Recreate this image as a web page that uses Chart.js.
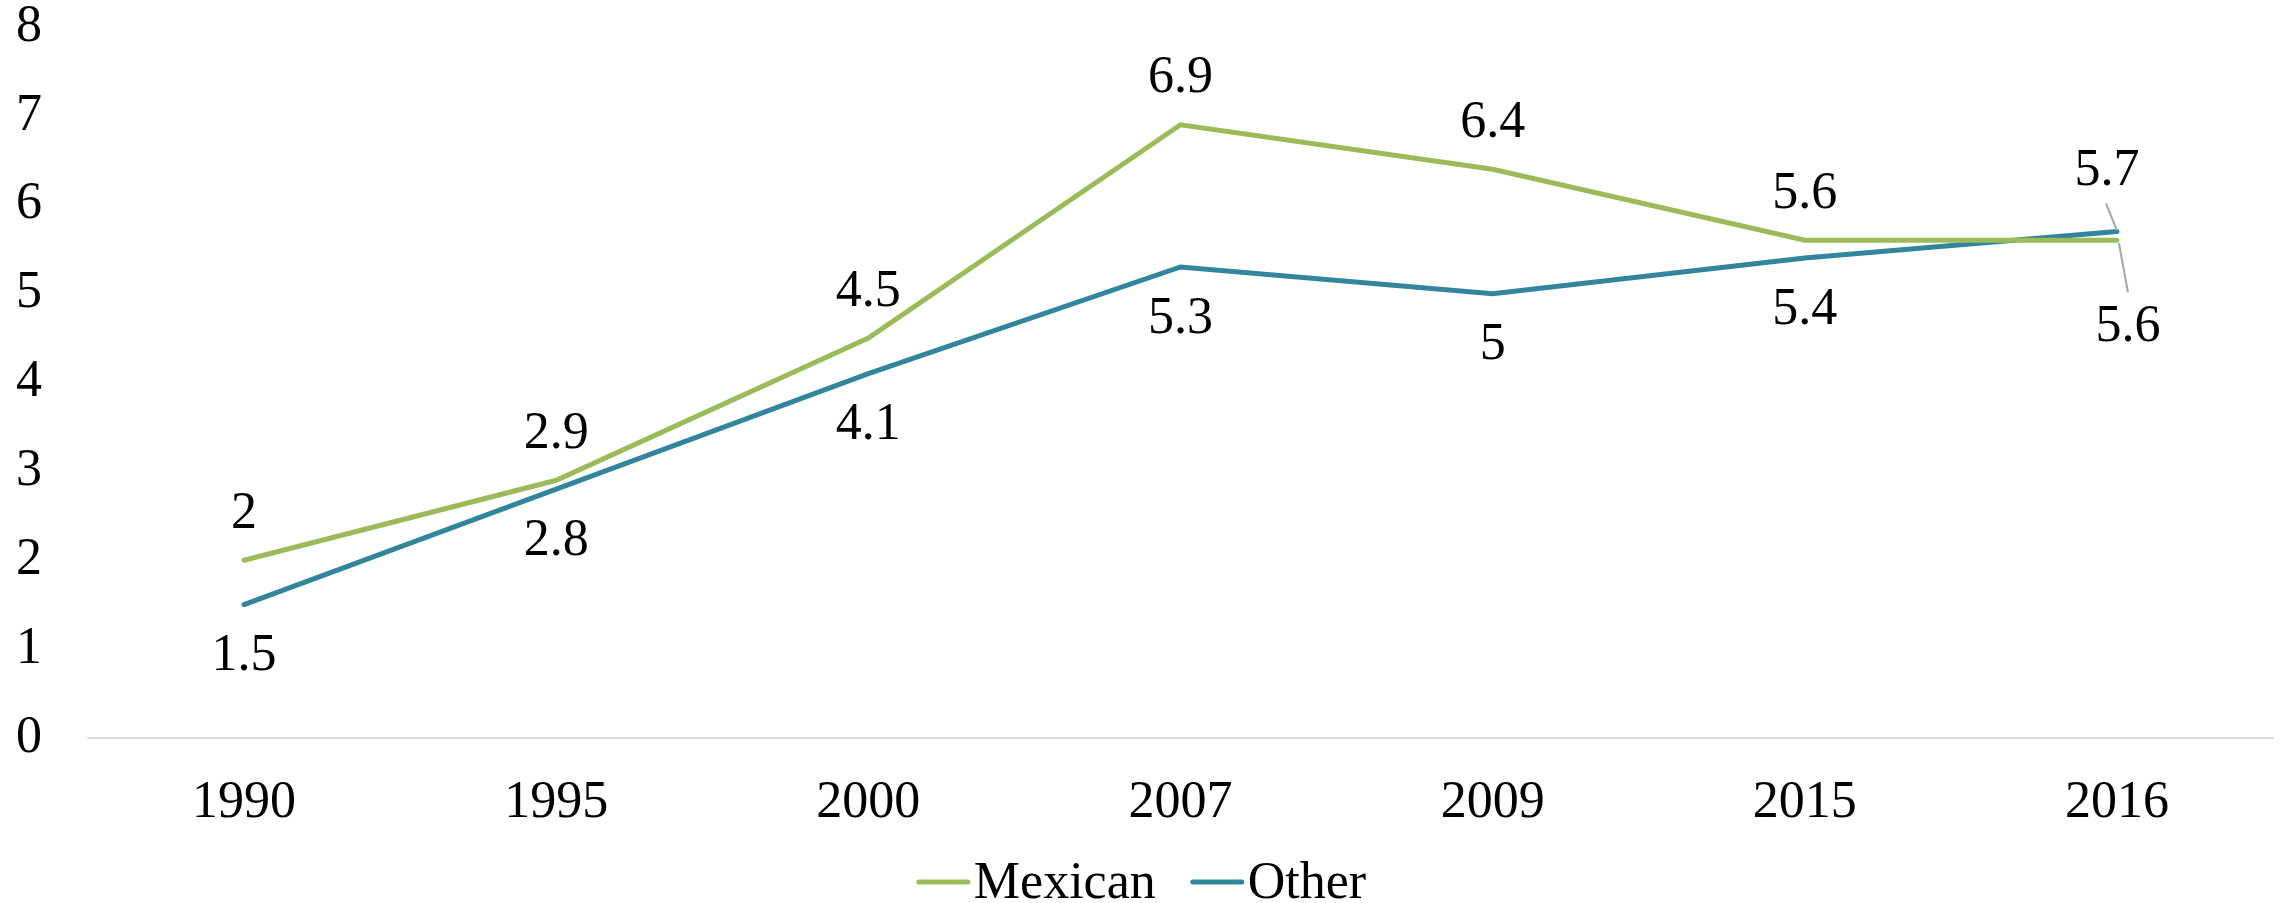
<!DOCTYPE html>
<html lang="en">
<head>
    <meta charset="UTF-8">
    <title>Mexican vs Other</title>
    <script src="https://cdn.jsdelivr.net/npm/chart.js"></script>
    <style>
        html, body { margin: 0; padding: 0; background: #fff; }
        #wrap { width: 2283px; height: 903px; }
    </style>
</head>
<body>
    <div id="wrap"><canvas id="lineChart" width="2283" height="903"></canvas></div>

    <script>
        // data
        const years = ['1990', '1995', '2000', '2007', '2009', '2015', '2016'];
        const mexican = [2, 2.9, 4.5, 6.9, 6.4, 5.6, 5.6];
        const other = [1.5, 2.8, 4.1, 5.3, 5, 5.4, 5.7];
        const yTicks = [0, 1, 2, 3, 4, 5, 6, 7, 8];

        const FONT = '"Liberation Serif", "Times New Roman", serif';
        const GREEN = '#9bbb59';
        const BLUE = '#31859c';

        // where the value labels go: above or below the line, last point gets a leader line
        const labelPlace = [
            { side: 'above', last: { dx: 11, dy: 87, from: [2, 3], to: [11, 52] } },
            { side: 'below', last: { dx: -10, dy: -60, from: [-11, -28], to: [0, -1] } }
        ];

        const valueLabels = {
            id: 'valueLabels',
            afterDatasetsDraw(chart) {
                const ctx = chart.ctx;
                ctx.save();
                ctx.font = '52px ' + FONT;
                ctx.fillStyle = '#000';
                ctx.textAlign = 'center';
                ctx.textBaseline = 'middle';
                chart.data.datasets.forEach((ds, di) => {
                    const meta = chart.getDatasetMeta(di);
                    const place = labelPlace[di];
                    meta.data.forEach((pt, i) => {
                        const txt = String(ds.data[i]);
                        if (i === meta.data.length - 1 && place.last) {
                            const l = place.last;
                            ctx.strokeStyle = '#a6a6a6';
                            ctx.lineWidth = 2;
                            ctx.beginPath();
                            ctx.moveTo(pt.x + l.from[0], pt.y + l.from[1]);
                            ctx.lineTo(pt.x + l.to[0], pt.y + l.to[1]);
                            ctx.stroke();
                            ctx.fillText(txt, pt.x + l.dx, pt.y + l.dy);
                        } else {
                            const dy = place.side === 'above' ? -46 : 52;
                            ctx.fillText(txt, pt.x, pt.y + dy);
                        }
                    });
                });
                ctx.restore();
            }
        };

        // legend drawn by hand so the gap between line and text stays small
        const bottomLegend = {
            id: 'bottomLegend',
            afterDraw(chart) {
                const ctx = chart.ctx;
                ctx.save();
                ctx.font = '52px ' + FONT;
                ctx.textBaseline = 'middle';
                ctx.textAlign = 'left';
                const sw = 53, gap = 4, between = 35;
                const items = chart.data.datasets.map(ds => ({
                    label: ds.label, color: ds.borderColor,
                    w: sw + gap + ctx.measureText(ds.label).width
                }));
                const total = items.reduce((a, it) => a + it.w, 0) + between * (items.length - 1);
                let x = (chart.width - total) / 2;
                const y = 882;
                items.forEach(it => {
                    ctx.strokeStyle = it.color;
                    ctx.lineWidth = 5;
                    ctx.lineCap = 'round';
                    ctx.beginPath();
                    ctx.moveTo(x + 2, y);
                    ctx.lineTo(x + sw - 2, y);
                    ctx.stroke();
                    ctx.fillStyle = '#000';
                    ctx.fillText(it.label, x + sw + gap, y + 2);
                    x += it.w + between;
                });
                ctx.restore();
            }
        };

        const ctx = document.getElementById('lineChart').getContext('2d');
        new Chart(ctx, {
            type: 'line',
            data: {
                labels: years,
                datasets: [
                    {
                        label: 'Mexican',
                        data: mexican,
                        borderColor: GREEN,
                        backgroundColor: GREEN,
                        borderWidth: 5,
                        borderCapStyle: 'round',
                        pointRadius: 0,
                        tension: 0
                    },
                    {
                        label: 'Other',
                        data: other,
                        borderColor: BLUE,
                        backgroundColor: BLUE,
                        borderWidth: 5,
                        borderCapStyle: 'round',
                        pointRadius: 0,
                        tension: 0
                    }
                ]
            },
            options: {
                responsive: false,
                animation: false,
                layout: { padding: { top: 27, right: 10, bottom: 65, left: 0 } },
                plugins: {
                    legend: { display: false },
                    tooltip: { enabled: false }
                },
                scales: {
                    x: {
                        offset: true,
                        grid: { display: false, drawTicks: false },
                        border: { color: '#d9d9d9', width: 2 },
                        ticks: {
                            color: '#000',
                            font: { family: FONT, size: 52 },
                            padding: 34
                        },
                        afterFit(scale) {
                            scale.height = 100;
                            scale.paddingLeft = 0;
                            scale.paddingRight = 0;
                        }
                    },
                    y: {
                        min: 0,
                        max: 8,
                        afterBuildTicks(scale) { scale.ticks = yTicks.map(v => ({ value: v })); },
                        grid: { display: false, drawTicks: false },
                        border: { display: false },
                        ticks: {
                            color: '#000',
                            font: { family: FONT, size: 52 },
                            padding: 46
                        },
                        afterFit(scale) {
                            scale.width = 88;
                            scale.paddingTop = 0;
                            scale.paddingBottom = 0;
                        }
                    }
                }
            },
            plugins: [valueLabels, bottomLegend]
        });
    </script>
</body>
</html>
